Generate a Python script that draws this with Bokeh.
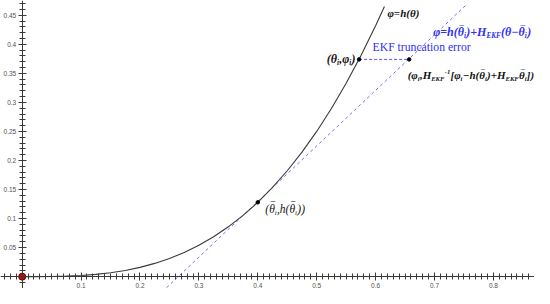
import glob
import numpy as np
from bokeh.plotting import figure
from bokeh.models import ColumnDataSource, FixedTicker
from bokeh.core.properties import value
from bokeh.embed import file_html
from bokeh.resources import INLINE

# ---------------- data ----------------
curve_theta = [0, 0.025, 0.05, 0.075, 0.1, 0.125, 0.15, 0.175, 0.2, 0.225, 0.25, 0.275,
               0.3, 0.325, 0.35, 0.375, 0.4, 0.425, 0.45, 0.475, 0.5, 0.525, 0.55, 0.575,
               0.6, 0.615]
curve_phi = [0, 0.00003, 0.00025, 0.00084, 0.002, 0.0039, 0.00675, 0.0107, 0.016, 0.0228,
             0.03125, 0.0416, 0.054, 0.0687, 0.0858, 0.1055, 0.128, 0.1535, 0.1823, 0.2143,
             0.25, 0.2894, 0.3328, 0.3802, 0.432, 0.4652]

tangent_x = [0.245, 0.755]
tangent_y = [-0.019, 0.469]

theta_bar, h_bar = 0.4, 0.128          # linearisation point
theta_i, phi_i = 0.572, 0.374          # true point
tan_x_i = 0.657                        # point on tangent with same phi

origin = [0.0, 0.0]

x_major = [0.1, 0.2, 0.3, 0.4, 0.5, 0.6, 0.7, 0.8]
x_labels = ["0.1", "0.2", "0.3", "0.4", "0.5", "0.6", "0.7", "0.8"]
y_major = [0.05, 0.1, 0.15, 0.2, 0.25, 0.3, 0.35, 0.4, 0.45]
y_labels = ["0.05", "0.1", "0.15", "0.2", "0.25", "0.3", "0.35", "0.4", "0.45"]

label_curve = "φ=h(θ)"
label_trunc = "EKF truncation error"

# ---------------- figure ----------------
W, H = 534, 288
p = figure(width=W, height=H, x_range=(-0.03684, 0.86978), y_range=(-0.0204, 0.4754),
           output_backend="svg", toolbar_location=None, min_border=0)
p.grid.visible = False
p.outline_line_color = None
p.background_fill_color = "white"

axis_col = "#3a3a3a"
for ax, maj, labs in ((p.xaxis[0], x_major, x_labels), (p.yaxis[0], y_major, y_labels)):
    minors = [round(v, 2) for v in np.arange(-0.04, 0.90, 0.01)]
    ax.ticker = FixedTicker(ticks=maj, minor_ticks=minors)
    ax.major_label_overrides = {m: l for m, l in zip(maj, labs)}
    ax.fixed_location = 0
    ax.axis_line_color = axis_col
    ax.major_tick_line_color = axis_col
    ax.minor_tick_line_color = axis_col
    ax.major_tick_in = 4
    ax.major_tick_out = 4
    ax.minor_tick_in = 3
    ax.minor_tick_out = 3
    ax.major_label_text_font = "Liberation Sans"
    ax.major_label_text_font_size = "6.5px"
    ax.major_label_text_color = "#505050"
    ax.major_label_standoff = 2

# tangent (linearisation) line
p.line(tangent_x, tangent_y, line_color="#7070f0", line_width=1, line_dash="3 3")
# truncation error segment
p.line([theta_i, tan_x_i], [phi_i, phi_i], line_color="#5a5af0", line_width=1, line_dash="3 2")
# curve
p.line(curve_theta, curve_phi, line_color="#3a3a3a", line_width=1.1)
# points
p.scatter([theta_i, tan_x_i, theta_bar], [phi_i, phi_i, h_bar], size=3.5,
          fill_color="black", line_color="black")
p.scatter([origin[0]], [origin[1]], size=7, fill_color="#dd0000", line_color="#550000",
          line_width=1)

# ---------------- text with sub/superscripts ----------------
SERIF = "Liberation Serif"
font_files = {}
for style, name in (("bold italic", "LiberationSerif-BoldItalic.ttf"),
                    ("italic", "LiberationSerif-Italic.ttf"),
                    ("normal", "LiberationSerif-Regular.ttf")):
    hits = glob.glob("/usr/share/fonts/**/" + name, recursive=True)
    font_files[style] = hits[0] if hits else None

try:
    from PIL import ImageFont
    HAVE_PIL = True
except Exception:
    HAVE_PIL = False

_font_cache = {}


def text_width(s, size, style):
    path = font_files.get(style)
    if HAVE_PIL and path:
        try:
            if path not in _font_cache:
                _font_cache[path] = ImageFont.truetype(path, 100)
            return _font_cache[path].getlength(s) * size / 100.0
        except Exception:
            pass
    return len(s) * 0.5 * size


OVER = "\u203e"
segments = []  # x, y, text, x_off, y_off, size, color, style


def layout(parts, main, style):
    sub = main * 0.6
    out = []
    cur = 0.0
    for t, kind in parts:
        if kind in ("M", "B"):
            sz, yo = main, 0.0
        elif kind == "S":
            sz, yo = sub, main * 0.3
        else:
            sz, yo = sub, -main * 0.3
        w = text_width(t, sz, style)
        out.append((t, cur, yo, sz))
        if kind == "B":
            wb = text_width(OVER, main, style)
            out.append((OVER, cur + (w - wb) / 2 + main * 0.08, -main * 0.12, main))
        cur += w + (0.3 if kind in ("S", "P") else 0)
    return out, cur


def rich(x, y, parts, dx, dy, color, style, main, align="left"):
    items, total = layout(parts, main, style)
    start = dx if align == "left" else dx - total
    for t, xo, yo, sz in items:
        segments.append((x, y, t, start + xo, dy + yo, round(sz, 2), color, style))


blue = "#2f2ff5"
dark = "#111111"
# phi = h(theta) near the curve end
rich(curve_theta[-1], curve_phi[-1], [(label_curve, "M")], 3, 7, dark, "bold italic", 11)
# tangent formula
rich(tan_x_i, phi_i,
     [("φ=h(", "M"), ("θ", "B"), ("i", "S"), (")+H", "M"), ("EKF", "S"), ("(θ−", "M"),
      ("θ", "B"), ("i", "S"), (")", "M")],
     24, -27, blue, "bold italic", 12)
# (theta_i, phi_i)
rich(theta_i, phi_i, [("(θ", "M"), ("i", "S"), (",φ", "M"), ("i", "S"), (")", "M")],
     -3.5, -0.5, dark, "bold italic", 12, align="right")
# (phi_i, H^-1 [...])
rich(tan_x_i, phi_i,
     [("(φ", "M"), ("i", "S"), (",H", "M"), ("EKF", "S"), ("-1", "P"), ("[φ", "M"), ("i", "S"),
      ("−h(", "M"), ("θ", "B"), ("i", "S"), (")+H", "M"), ("EKF", "S"), ("θ", "B"), ("i", "S"),
      ("])", "M")],
     -1.5, 15.5, dark, "bold italic", 11)
# (theta_bar_i, h(theta_bar_i))
rich(theta_bar, h_bar, [("(", "M"), ("θ", "B"), ("i", "S"), (",h(", "M"), ("θ", "B"), ("i", "S"),
                        ("))", "M")],
     7.5, 6.5, dark, "italic", 11.5)

groups = {}
for s in segments:
    groups.setdefault((s[5], s[6], s[7]), []).append(s)
for (sz, col, sty), segs in groups.items():
    src = ColumnDataSource(dict(x=[s[0] for s in segs], y=[s[1] for s in segs],
                                text=[s[2] for s in segs], xo=[s[3] for s in segs],
                                yo=[s[4] for s in segs]))
    p.text(x="x", y="y", text="text", x_offset="xo", y_offset="yo", source=src,
           text_font=value(SERIF), text_font_size=value(f"{sz}px"), text_font_style=sty,
           text_color=col, text_align="left", text_baseline="middle")

# EKF truncation error (plain serif)
tw = text_width(label_trunc, 10.0, "normal")
p.text(x=[theta_i], y=[phi_i], text=[label_trunc], x_offset=13.5, y_offset=-11.5,
       text_font=value(SERIF), text_font_size=value(f"{10.0 * 98 / tw:.2f}px"), text_color=blue,
       text_align="left", text_baseline="middle")

open("out.html", "w").write(file_html(p, INLINE))
